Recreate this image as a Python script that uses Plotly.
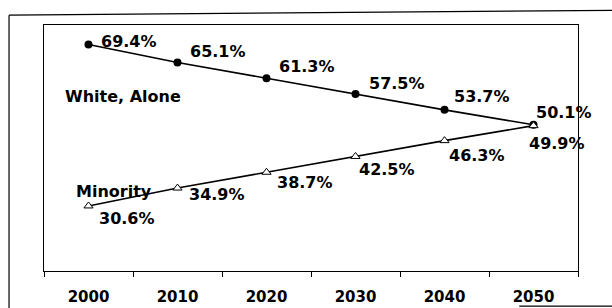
import plotly.graph_objects as go

years = ["2000", "2010", "2020", "2030", "2040", "2050"]
white_alone = [69.4, 65.1, 61.3, 57.5, 53.7, 50.1]
minority = [30.6, 34.9, 38.7, 42.5, 46.3, 49.9]
white_name = "White, Alone"
minority_name = "Minority"

FONT = "DejaVu Sans"
BOLD16 = dict(family=FONT, size=16, color="black", weight="bold")

# label offsets (px) from each marker: (dx to text left edge, dy to text centre, downward positive)
white_offsets = [(10, -3), (10, -11), (10, -12), (11, -11), (7, -13), (0, -12)]
minority_offsets = [(8, 13), (9, 6), (8, 10), (1, 13), (2, 15), (-7, 18)]

fig = go.Figure()
fig.add_trace(go.Scatter(
    x=years, y=white_alone, mode="lines+markers",
    line=dict(color="black", width=1.6),
    marker=dict(symbol="circle", size=8, color="black"),
    showlegend=False, cliponaxis=False, hoverinfo="x+y",
))
fig.add_trace(go.Scatter(
    x=years, y=minority, mode="lines+markers",
    line=dict(color="black", width=1.6),
    marker=dict(symbol="triangle-up", size=8, color="white", line=dict(color="black", width=1)),
    showlegend=False, cliponaxis=False, hoverinfo="x+y",
))

for vals, offs in ((white_alone, white_offsets), (minority, minority_offsets)):
    for i, (v, (dx, dy)) in enumerate(zip(vals, offs)):
        fig.add_annotation(x=i, y=v, xref="x", yref="y", text=f"{v:.1f}%",
                           showarrow=False, xanchor="left", yanchor="middle",
                           xshift=dx, yshift=-dy, font=BOLD16)

fig.add_annotation(x=0.382, y=57.0, xref="x", yref="y", text=white_name, showarrow=False,
                   font=BOLD16)
fig.add_annotation(x=0.292, y=34.0, xref="x", yref="y", text=minority_name, showarrow=False,
                   font=BOLD16)

# outer frame
line = dict(color="black", width=1.2)
fig.add_shape(type="line", xref="paper", yref="paper", x0=-0.0655, x1=-0.0655, y0=1.04, y1=-0.16, line=line)
fig.add_shape(type="line", xref="paper", yref="paper", x0=-0.0655, x1=1.08, y0=1.04, y1=1.06, line=line)
fig.add_shape(type="line", xref="paper", yref="paper", x0=0.89, x1=1.08, y0=-0.143, y1=-0.143, line=line)

fig.update_layout(
    width=612, height=308,
    margin=dict(l=44, r=34, t=25, b=37),
    paper_bgcolor="white", plot_bgcolor="white",
    font=dict(family=FONT, color="black"),
)
fig.update_xaxes(
    type="category", range=[-0.5, 5.5], tickson="boundaries",
    ticks="outside", ticklen=5, tickcolor="black",
    showline=True, linecolor="black", linewidth=1, mirror=True,
    showgrid=False, zeroline=False, automargin=False,
    tickfont=dict(family=FONT, size=15, color="black", weight="bold"),
    ticklabelstandoff=12,
)
fig.update_yaxes(
    range=[14.96, 74.1], showticklabels=False, ticks="",
    showline=True, linecolor="black", linewidth=1, mirror=True,
    showgrid=False, zeroline=False, automargin=False,
)

fig.write_html("out.html", config={"displayModeBar": False},
               post_script="document.body.style.margin='0';document.body.style.overflow='hidden';")
